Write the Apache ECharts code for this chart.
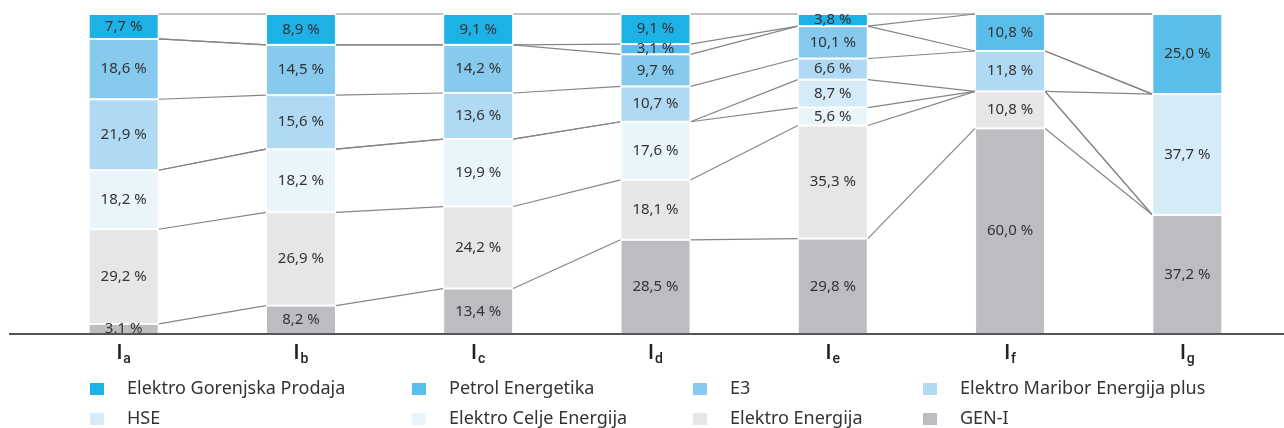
<!DOCTYPE html>
<html>
<head>
<meta charset="utf-8">
<script src="https://cdn.jsdelivr.net/npm/echarts@6/dist/echarts.min.js"></script>
<style>
  html, body { margin: 0; padding: 0; background: #fff; }
  #chart { width: 1284px; height: 428px; }
</style>
</head>
<body>
<div id="chart"></div>
<script>
// kategorije (indeks pod I)
var categories = ['a', 'b', 'c', 'd', 'e', 'f', 'g'];

// deleži po dobaviteljih, od zgoraj navzdol (null = ni v stolpcu)
var elektroGorenjska = [7.7, 8.9, 9.1, 9.1, 3.8, null, null];
var petrolEnergetika = [null, null, null, 3.1, null, 10.8, 25.0];
var e3 = [18.6, 14.5, 14.2, 9.7, 10.1, null, null];
var elektroMaribor = [21.9, 15.6, 13.6, 10.7, 6.6, 11.8, null];
var hse = [null, null, null, null, 8.7, null, 37.7];
var elektroCelje = [18.2, 18.2, 19.9, 17.6, 5.6, null, null];
var elektroEnergija = [29.2, 26.9, 24.2, 18.1, 35.3, 10.8, null];
var genI = [3.1, 8.2, 13.4, 28.5, 29.8, 60.0, 37.2];

var names = ['Elektro Gorenjska Prodaja', 'Petrol Energetika', 'E3', 'Elektro Maribor Energija plus',
             'HSE', 'Elektro Celje Energija', 'Elektro Energija', 'GEN-I'];
var colors = ['#1eb1e6', '#5bbde9', '#87caee', '#b0daf3', '#d6ebf8', '#eaf5fb', '#e5e6e8', '#bcbdc1'];
var raw = [elektroGorenjska, petrolEnergetika, e3, elektroMaribor, hse, elektroCelje, elektroEnergija, genI];

var BAR_W = 70;

// vsota po stolpcu -> stolpci so zapolnjeni do 100
var sums = categories.map(function (c, i) {
    return raw.reduce(function (s, arr) { return s + (arr[i] || 0); }, 0);
});
var norm = raw.map(function (arr) {
    return arr.map(function (v, i) { return (v || 0) / sums[i] * 100; });
});

// kumulativne meje od spodaj (GEN-I spodaj)
var bottomUp = norm.slice().reverse();
var bounds = []; // bounds[k][i]
var acc = categories.map(function () { return 0; });
bottomUp.forEach(function (arr) {
    acc = acc.map(function (a, i) { return a + arr[i]; });
    bounds.push(acc.slice());
});

// povezovalne črte med stolpci
var linkData = [];
for (var i = 0; i < categories.length - 1; i++) {
    bounds.forEach(function (b) { linkData.push([i, b[i], b[i + 1]]); });
}

function fmt(v) { return v.toFixed(1).replace('.', ',') + ' %'; }

var barSeries = names.map(function (n, s) {
    return {
        name: n,
        type: 'bar',
        stack: 'total',
        barWidth: BAR_W,
        data: norm[s],
        itemStyle: { color: colors[s], borderColor: '#fff', borderWidth: 1 },
        label: {
            show: true,
            position: 'inside',
            color: '#333',
            fontSize: 15,
            fontFamily: 'Noto Sans',
            formatter: function (p) {
                var v = raw[s][p.dataIndex];
                return v == null ? '' : fmt(v);
            }
        },
        z: 3
    };
}).reverse();

var linkSeries = {
    type: 'custom',
    data: linkData,
    z: 1,
    silent: true,
    renderItem: function (params, api) {
        var i = api.value(0);
        var p1 = api.coord([i, api.value(1)]);
        var p2 = api.coord([i + 1, api.value(2)]);
        return {
            type: 'line',
            shape: { x1: p1[0] + BAR_W / 2, y1: p1[1], x2: p2[0] - BAR_W / 2, y2: p2[1] },
            style: { stroke: '#858585', lineWidth: 1.2 }
        };
    }
};

// legenda: 4 stolpci x 2 vrstici, vsak element posebej
var legendLeft = [88, 410, 691, 921];
var legendTop = [380, 410];
var legends = names.map(function (n, s) {
    return {
        left: legendLeft[s % 4],
        top: legendTop[Math.floor(s / 4)],
        padding: 0,
        itemWidth: 16,
        itemHeight: 14,
        icon: 'rect',
        data: [n],
        selectedMode: false,
        textStyle: { color: '#333', fontSize: 18, fontFamily: 'Noto Sans', padding: [0, 0, 0, 17] }
    };
});

var myChart = echarts.init(document.getElementById('chart'));
var option = {
    animation: false,
    grid: { left: 35, right: 8, top: 14, bottom: 94 },
    legend: legends,
    xAxis: {
        type: 'category',
        data: categories,
        axisLine: { show: false },
        axisTick: { show: false },
        axisLabel: {
            margin: 9,
            formatter: function (c) { return '{i|I}{s|' + c + '}'; },
            rich: {
                i: { fontSize: 21, fontWeight: 500, color: '#222', fontFamily: 'Roboto', lineHeight: 22 },
                s: { fontSize: 14, fontWeight: 500, color: '#222', fontFamily: 'Roboto', lineHeight: 22, padding: [10, 0, 0, 1] }
            }
        }
    },
    yAxis: {
        type: 'value',
        min: 0,
        max: 100,
        show: false
    },
    graphic: [{
        type: 'line',
        shape: { x1: 9, y1: 334, x2: 1284, y2: 334 },
        style: { stroke: '#555', lineWidth: 2 },
        z: 10
    }],
    series: barSeries.concat([linkSeries])
};
window.onresize = myChart.resize;
myChart.setOption(option);
</script>
</body>
</html>
